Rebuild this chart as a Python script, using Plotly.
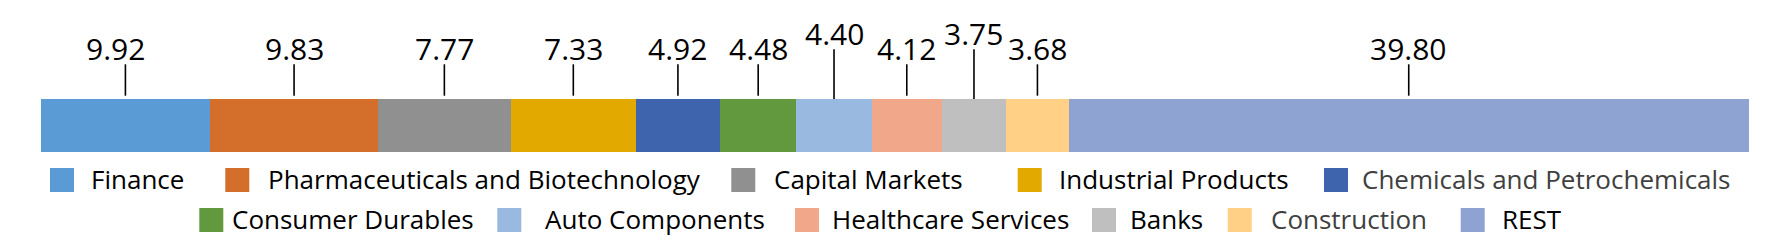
import plotly.graph_objects as go

# ---------------- data ----------------
categories = [
    "Finance", "Pharmaceuticals and Biotechnology", "Capital Markets",
    "Industrial Products", "Chemicals and Petrochemicals", "Consumer Durables",
    "Auto Components", "Healthcare Services", "Banks", "Construction", "REST",
]
values = [9.92, 9.83, 7.77, 7.33, 4.92, 4.48, 4.40, 4.12, 3.75, 3.68, 39.80]

# ---------------- style ----------------
colors = ["#5B9BD5", "#D36E2B", "#909090", "#E2A900", "#3D64AD", "#62993E",
          "#9AB9E0", "#F1A88A", "#BFBFBF", "#FFD086", "#8FA3D3"]
legend_text_colors = ["#000000", "#000000", "#000000", "#000000", "#404040", "#000000",
                      "#000000", "#000000", "#000000", "#404040", "#000000"]
raised_labels = {"Auto Components", "Banks"}
label_xshift = {"Finance": -10}
FONT = "Open Sans"

W, H = 1765, 246
BAR_L, BAR_R, BAR_T, BAR_B = 40.7, 1748.6, 99.0, 152.0

# legend slots (layout): row, swatch left px, text left px
legend_rows = [0, 0, 0, 0, 0, 1, 1, 1, 1, 1, 1]
legend_swatch_x = [50, 225.3, 731.3, 1017.7, 1324, 199.3, 497.3, 795, 1092, 1227.7, 1460.7]
legend_text_x = [89.3, 265.7, 771.7, 1056.7, 1360, 230, 542.7, 830, 1128.3, 1269.3, 1500]
legend_row_y = [180, 220]
SW = 24

# ---------------- axes mapping ----------------
total = sum(values)
px_per_unit = (BAR_R - BAR_L) / total
x_range = [-BAR_L / px_per_unit, total + (W - BAR_R) / px_per_unit]
y_center_px = (BAR_T + BAR_B) / 2
px_per_y = BAR_B - BAR_T  # bar width = 1 data unit
y_range = [-(H - y_center_px) / px_per_y, y_center_px / px_per_y]


def ydat(py):
    return (y_center_px - py) / px_per_y


fig = go.Figure()
for cat, v, c in zip(categories, values, colors):
    fig.add_trace(go.Bar(
        y=[0], x=[v], name=cat, orientation="h", width=1,
        marker=dict(color=c, line=dict(width=0)),
        showlegend=False, hoverinfo="name+x",
    ))

annotations = []
shapes = []
cum = 0.0
for cat, v in zip(categories, values):
    center = cum + v / 2
    cum += v
    if cat in raised_labels:
        text_mid, l0, l1 = 33.5, 49.3, 99.0
    else:
        text_mid, l0, l1 = 48.5, 64.3, 95.7
    annotations.append(dict(
        x=center, y=ydat(text_mid), xref="x", yref="y", text=f"{v:.2f}",
        showarrow=False, xanchor="center", yanchor="middle",
        xshift=label_xshift.get(cat, 0),
        font=dict(family=FONT, size=30, color="#000000"),
    ))
    shapes.append(dict(
        type="line", xref="x", yref="y", x0=center, x1=center,
        y0=ydat(l0), y1=ydat(l1), line=dict(color="#000000", width=1.6),
    ))

# manual legend with large swatches
for cat, c, tc, r, sx, tx in zip(categories, colors, legend_text_colors,
                                  legend_rows, legend_swatch_x, legend_text_x):
    cy = legend_row_y[r]
    shapes.append(dict(
        type="rect", xref="paper", yref="paper",
        x0=sx / W, x1=(sx + SW) / W,
        y0=1 - (cy + SW / 2) / H, y1=1 - (cy - SW / 2) / H,
        fillcolor=c, line=dict(width=0),
    ))
    annotations.append(dict(
        x=tx / W, y=1 - (cy - 1) / H, xref="paper", yref="paper", text=cat,
        showarrow=False, xanchor="left", yanchor="middle",
        font=dict(family=FONT, size=26, color=tc),
    ))

fig.update_layout(
    width=W, height=H,
    margin=dict(l=0, r=0, t=0, b=0),
    paper_bgcolor="#FFFFFF", plot_bgcolor="#FFFFFF",
    barmode="stack", bargap=0,
    xaxis=dict(range=x_range, visible=False, fixedrange=True),
    yaxis=dict(range=y_range, visible=False, fixedrange=True),
    annotations=annotations, shapes=shapes,
    font=dict(family=FONT),
)

fig.write_html("out.html")
